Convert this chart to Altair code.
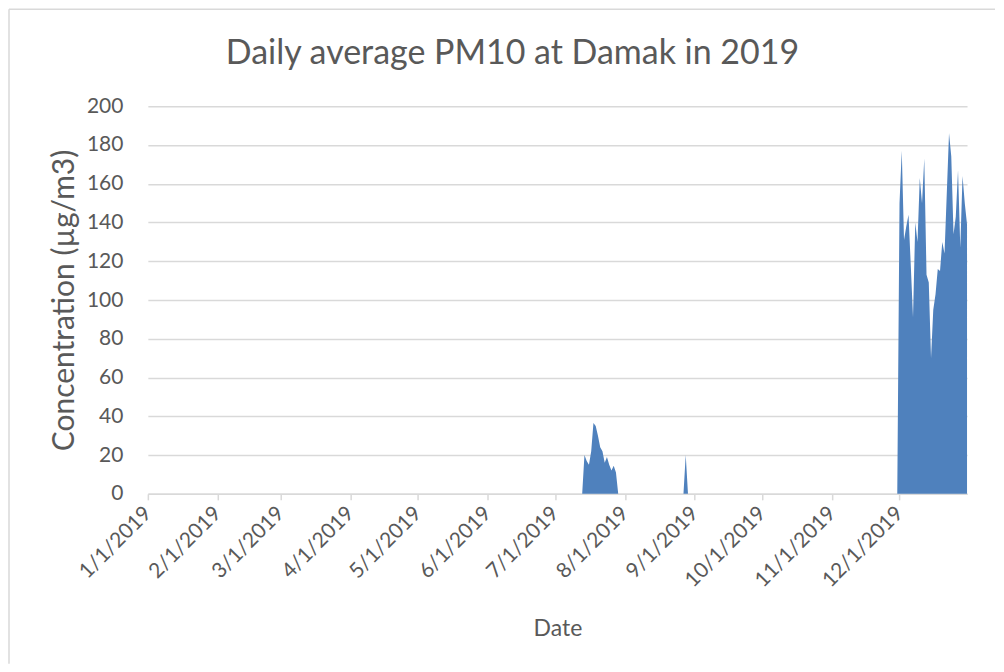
import altair as alt
import pandas as pd

# ---- data ----
title_text = "Daily average PM10 at Damak in 2019"
y_title = "Concentration (µg/m3)"
x_title = "Date"

# July episode (starts 2019-07-14)
july_start = "2019-07-14"
july_values = [20, 17, 15, 22, 36.5, 35, 30, 24, 22, 16, 19, 15, 12, 14.5, 11]

# single spike in late August
aug_start = "2019-08-28"
aug_values = [20]

# December episode (starts 2019-12-01)
dec_start = "2019-12-01"
dec_values = [150, 177, 131, 138, 144, 118, 91, 140, 130, 163,
              150, 173, 113, 109, 70, 95, 103, 116, 115, 130,
              124, 155, 186, 174, 134, 143, 167, 127, 164, 150, 139]

year_start = "2019-01-01"
year_end = "2019-12-31"
y_ticks = [0, 20, 40, 60, 80, 100, 120, 140, 160, 180, 200]
month_ticks = ["2019-%02d-01" % m for m in range(1, 13)]

# ---- build table (all other days are zero in the chart) ----
days = pd.date_range(year_start, year_end, freq="D")
series = pd.Series(0.0, index=days)
for start, vals in [(july_start, july_values), (aug_start, aug_values), (dec_start, dec_values)]:
    idx = pd.date_range(start, periods=len(vals), freq="D")
    series.loc[idx] = vals
df = pd.DataFrame({"date": days.strftime("%Y-%m-%d"), "pm10": series.values})

def ms(s):
    return int(pd.Timestamp(s, tz="UTC").value // 10**6)

TEXT = "#595959"
GRID = "#d9d9d9"
FONT = "Lato"

area = alt.Chart(df).mark_area(color="#4f81bd", opacity=1, interpolate="linear").encode(
    x=alt.X("date:T",
            scale=alt.Scale(type="utc", domain=[ms(year_start), ms(year_end)]),
            axis=alt.Axis(values=[ms(d) for d in month_ticks],
                          labelExpr="utcFormat(datum.value, '%-m/%-d/%Y')",
                          labelAngle=-45, labelAlign="right", labelBaseline="middle",
                          labelFont=FONT, labelFontSize=21, labelColor=TEXT,
                          labelPadding=10, labelOverlap=False, labelBound=False, labelFlush=False,
                          grid=False, domainColor=GRID, domainWidth=1.5,
                          tickColor=GRID, tickSize=6, tickWidth=1.5,
                          title=x_title, titleFont=FONT, titleFontSize=23,
                          titleFontWeight="normal", titleColor=TEXT,
                          titleY=135, titleBaseline="middle")),
    y=alt.Y("pm10:Q",
            scale=alt.Scale(domain=[0, 200], nice=False),
            axis=alt.Axis(values=y_ticks, grid=True, gridColor=GRID, gridWidth=1.5,
                          domain=False, ticks=False, tickSize=0,
                          labelFont=FONT, labelFontSize=21, labelColor=TEXT, labelPadding=25,
                          title=y_title, titleFont=FONT, titleFontSize=30,
                          titleFontWeight="normal", titleColor=TEXT,
                          titleX=-83, titleBaseline="middle")),
)

# outer frame of the chart (left and top edges)
frame_top = alt.Chart(pd.DataFrame({"k": [0]})).mark_rule(color=GRID, strokeWidth=1.5).encode(
    x=alt.value(-139), x2=alt.value(848), y=alt.value(-97))
frame_left = alt.Chart(pd.DataFrame({"k": [0]})).mark_rule(color=GRID, strokeWidth=1.5).encode(
    x=alt.value(-139), y=alt.value(-97), y2=alt.value(558))

title = alt.Chart(pd.DataFrame({"t": [title_text]})).mark_text(
    font=FONT, fontSize=34, color=TEXT, align="center", baseline="alphabetic").encode(
    text="t:N", x=alt.value(365), y=alt.value(-42))

chart = alt.layer(area, frame_top, frame_left, title).properties(
    width=820, height=388, padding=0
).configure_view(strokeWidth=0)

chart.save("out.html", embed_options={"renderer": "svg", "actions": False})
